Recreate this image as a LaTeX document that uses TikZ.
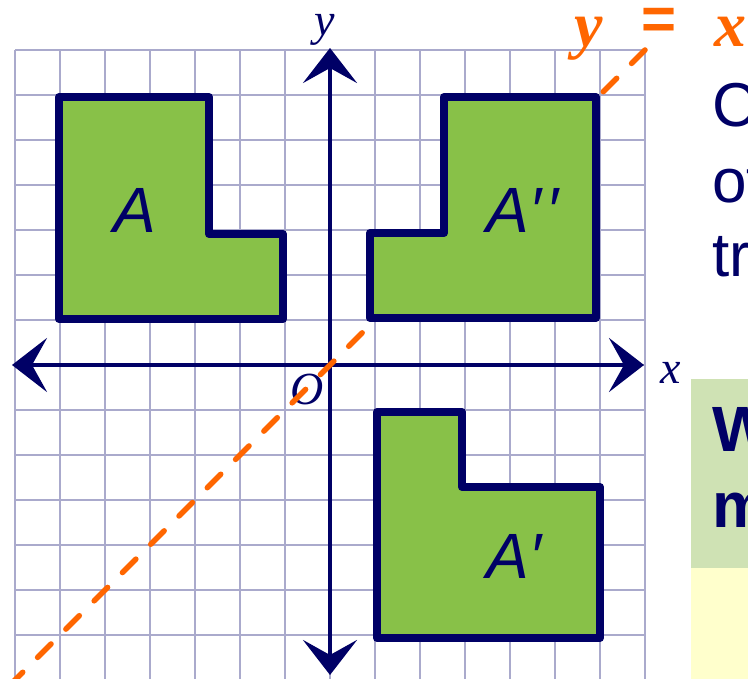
\documentclass[tikz,border=0pt]{standalone}
\usepackage{fontspec}
\setmainfont{Liberation Sans}
\newfontfamily\serifit{Liberation Serif}
\usetikzlibrary{arrows.meta}
\definecolor{navy}{HTML}{000066}
\definecolor{gridc}{HTML}{AAAACC}
\definecolor{shapeg}{HTML}{88C148}
\definecolor{orng}{HTML}{FF6600}
\definecolor{boxg}{HTML}{CFE2B4}
\definecolor{boxy}{HTML}{FFFFCC}
\begin{document}
\begin{tikzpicture}[x=1pt,y=-1pt,
  gridline/.style={draw=gridc,line width=2.2pt},
  axisline/.style={draw=navy,line width=4.5pt,
    {Stealth[length=35pt,width=54pt,inset=15pt]}-{Stealth[length=35pt,width=54pt,inset=15pt]}},
  lshape/.style={draw=navy,fill=shapeg,line width=8pt,line join=round},
  shapelabel/.style={text=navy,font=\fontsize{64}{64}\selectfont\itshape,inner sep=0pt,anchor=base west},
  axislabel/.style={text=navy,font=\serifit\itshape\fontsize{46}{46}\selectfont,inner sep=0pt},
  mirrorline/.style={draw=orng,line width=5.5pt,line cap=round,dash pattern=on 19pt off 21pt},
  mirrorlabel/.style={text=orng,font=\serifit\bfseries\itshape\fontsize{64}{64}\selectfont,inner sep=0pt},
  bigtext/.style={text=navy,font=\fontsize{62}{75}\selectfont,inner sep=0pt,anchor=base west},
  boldtext/.style={text=navy,font=\bfseries\fontsize{64}{75}\selectfont,inner sep=0pt,anchor=base west}
]
\useasboundingbox (0,0) rectangle (748,679);
\clip (0,0) rectangle (748,679);
\fill[white] (0,0) rectangle (748,679);
% grid
\foreach \i in {0,...,14} {
  \draw[gridline] ({15+45*\i},50) -- ({15+45*\i},681);
  \draw[gridline] (15,{50+45*\i}) -- (645,{50+45*\i});
}
% right boxes
\fill[boxg] (691,379) rectangle (760,568);
\fill[boxy] (691,568) rectangle (760,690);
% axes
\coordinate (xl) at (12,365);
\coordinate (xr) at (644,365);
\coordinate (yt) at (330,48);
\coordinate (yb) at (330,675);
\draw[axisline] (xl) -- (xr);
\draw[axisline] (yb) -- (yt);
\node[axislabel] (lo) at (307,389) {O};
% mirror line
\coordinate (mt) at (645,50);
\coordinate (mb) at (-10,705);
\draw[mirrorline] (mt) -- (mb);
% shapes
\draw[lshape] (59,97) -- (209,97) -- (209,234) -- (283,234) -- (283,319) -- (59,319) -- cycle;
\draw[lshape] (370,233) -- (444,233) -- (444,97) -- (596,97) -- (596,318) -- (370,318) -- cycle;
\draw[lshape] (377,412) -- (462,412) -- (462,487) -- (600,487) -- (600,638) -- (377,638) -- cycle;
% labels
\node[shapelabel] (la) at (113,233) {A};
\node[shapelabel] (lapp) at (486,233) {A\kern1pt′\kern5pt′};
\node[shapelabel] (lap) at (486,578) {A\kern1pt′};
\node[axislabel] (ly) at (325,30) {y};
\node[axislabel] (lx) at (671,373) {x};
\node[mirrorlabel,anchor=base] (my) at (589,47) {y};
\node[text=orng,font=\bfseries\fontsize{60}{60}\selectfont,inner sep=0pt] (meq) at (659,24) {=};
\node[mirrorlabel,anchor=base] (mx) at (730,47) {x};
% right text
\node[bigtext] (t1) at (712,127) {C};
\node[bigtext] (t2) at (712,203) {of};
\node[bigtext] (t3) at (712,277) {tr};
\node[boldtext] (w1) at (712,452) {W};
\node[boldtext] (w2) at (712,527) {m};
\end{tikzpicture}
\end{document}
